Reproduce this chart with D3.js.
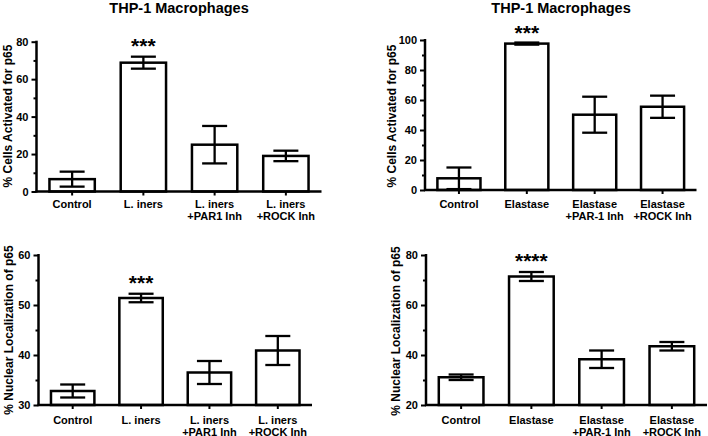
<!DOCTYPE html>
<html>
<head>
<meta charset="utf-8">
<script src="https://cdn.jsdelivr.net/npm/d3@7"></script>
<style>
  html, body { margin: 0; padding: 0; background: #fff; }
  svg { display: block; }
  text { font-family: "Liberation Sans", Arial, Helvetica, sans-serif; font-weight: bold; fill: #000; }
</style>
</head>
<body>
<svg id="chart" width="708" height="436"></svg>
<script>
// ---- Data ----
const titleText = "THP-1 Macrophages";
const categoriesLiners = [["Control"], ["L. iners"], ["L. iners", "+PAR1 Inh"], ["L. iners", "+ROCK Inh"]];
const categoriesElastase = [["Control"], ["Elastase"], ["Elastase", "+PAR-1 Inh"], ["Elastase", "+ROCK Inh"]];

const activatedLinersMean = [6.6, 68.8, 25.0, 19.0];
const activatedLinersErr  = [4.0, 3.2, 10.0, 2.8];
const activatedElastaseMean = [7.8, 97.6, 50.2, 55.5];
const activatedElastaseErr  = [7.2, 0.7, 12.0, 7.4];
const nuclearLinersMean = [32.8, 51.4, 36.5, 40.9];
const nuclearLinersErr  = [1.3, 0.85, 2.3, 2.9];
const nuclearElastaseMean = [31.1, 71.4, 38.3, 43.5];
const nuclearElastaseErr  = [1.1, 1.8, 3.5, 1.7];

const activatedLinersTicks = [0, 20, 40, 60, 80];
const activatedElastaseTicks = [0, 20, 40, 60, 80, 100];
const nuclearLinersTicks = [30, 40, 50, 60];
const nuclearElastaseTicks = [20, 40, 60, 80];

const yLabelActivated = "% Cells Activated for p65";
const yLabelNuclear = "% Nuclear Localization of p65";

const starsActLiners = ["", "***", "", ""];
const starsActElastase = ["", "***", "", ""];
const starsNucLiners = ["", "***", "", ""];
const starsNucElastase = ["", "****", "", ""];

// ---- Drawing ----
const svg = d3.select("#chart");

function panel(cfg) {
  const g = svg.append("g");
  const x = d3.scaleBand().domain(d3.range(cfg.cats.length))
    .range(cfg.xRange).paddingInner(0.33).paddingOuter(0.165);
  const y = d3.scaleLinear().domain(cfg.yDomain).range(cfg.yRange);
  const axisX = cfg.axisX;

  // bars
  g.selectAll("rect.bar").data(cfg.mean).enter().append("rect")
    .attr("x", (d, i) => x(i) + 1.2)
    .attr("width", x.bandwidth() - 2.4)
    .attr("y", d => y(d))
    .attr("height", d => y(cfg.yDomain[0]) - y(d))
    .attr("fill", "#fff").attr("stroke", "#000").attr("stroke-width", 2.5);

  // error bars
  const capW = 12.5;
  cfg.mean.forEach((m, i) => {
    const cx = x(i) + x.bandwidth() / 2;
    const hi = y(m + cfg.err[i]);
    const lo = y(Math.max(cfg.yDomain[0], m - cfg.err[i]));
    const e = g.append("g").attr("stroke", "#000").attr("stroke-width", 2.3);
    e.append("line").attr("x1", cx).attr("x2", cx).attr("y1", hi).attr("y2", lo);
    e.append("line").attr("x1", cx - capW).attr("x2", cx + capW).attr("y1", hi).attr("y2", hi);
    e.append("line").attr("x1", cx - capW).attr("x2", cx + capW).attr("y1", lo).attr("y2", lo);
    if (cfg.stars[i]) {
      g.append("text").attr("x", cx).attr("y", y(cfg.starY) )
        .attr("text-anchor", "middle").attr("font-size", 21).text(cfg.stars[i]);
    }
  });

  // y axis major
  const ya = g.append("g").attr("transform", `translate(${axisX},0)`)
    .call(d3.axisLeft(y).tickValues(cfg.ticks).tickSize(5).tickSizeOuter(0).tickPadding(3));
  // minor ticks
  const minor = [];
  for (let k = 0; k < cfg.ticks.length - 1; k++) minor.push((cfg.ticks[k] + cfg.ticks[k + 1]) / 2);
  g.append("g").attr("transform", `translate(${axisX},0)`)
    .call(d3.axisLeft(y).tickValues(minor).tickSize(3).tickFormat("").tickSizeOuter(0))
    .select(".domain").remove();
  g.selectAll(".tick line").attr("stroke-width", 2);
  ya.select(".domain").attr("stroke-width", 2.5)
    .attr("d", `M0,${y(cfg.yDomain[1]) - 1}V${y(cfg.yDomain[0]) + 1}`);
  ya.selectAll("text").attr("font-size", 11).attr("font-weight", "bold")
    .attr("font-family", '"Liberation Sans", Arial, sans-serif');

  // x axis
  const base = y(cfg.yDomain[0]);
  const xa = g.append("g").attr("transform", `translate(0,${base})`)
    .call(d3.axisBottom(x).tickSize(4).tickSizeOuter(0).tickFormat(""));
  xa.select(".domain").attr("stroke-width", 2.5)
    .attr("d", `M${axisX - 1},0H${cfg.xRange[1]}`);
  xa.selectAll(".tick line").attr("stroke-width", 2);
  cfg.cats.forEach((lines, i) => {
    const t = g.append("text").attr("text-anchor", "middle").attr("font-size", 11)
      .attr("x", x(i) + x.bandwidth() / 2).attr("y", base + cfg.labelDy);
    lines.forEach((ln, j) => {
      t.append("tspan").attr("x", x(i) + x.bandwidth() / 2).attr("dy", j === 0 ? 0 : 12).text(ln);
    });
  });

  // y label
  g.append("text").attr("text-anchor", "middle").attr("font-size", 12)
    .attr("transform", `translate(${cfg.yLabelX},${cfg.yLabelY}) rotate(-90)`)
    .text(cfg.yLabel);

  if (cfg.title) {
    g.append("text").attr("text-anchor", "middle").attr("font-size", 14.5)
      .attr("x", cfg.titleX).attr("y", cfg.titleY).text(cfg.title);
  }
}

panel({
  cats: categoriesLiners, mean: activatedLinersMean, err: activatedLinersErr,
  ticks: activatedLinersTicks, yDomain: [0, 80], yRange: [191.5, 41.7],
  xRange: [36.5, 321.5], axisX: 36.5, labelDy: 16.5, stars: starsActLiners, starY: 73.7,
  yLabel: yLabelActivated, yLabelX: 12, yLabelY: 116,
  title: titleText, titleX: 179, titleY: 13
});
panel({
  cats: categoriesElastase, mean: activatedElastaseMean, err: activatedElastaseErr,
  ticks: activatedElastaseTicks, yDomain: [0, 100], yRange: [190, 40],
  xRange: [425, 696.5], axisX: 425, labelDy: 17.5, stars: starsActElastase, starY: 100,
  yLabel: yLabelActivated, yLabelX: 396, yLabelY: 116,
  title: titleText, titleX: 561, titleY: 12.5
});
panel({
  cats: categoriesLiners, mean: nuclearLinersMean, err: nuclearLinersErr,
  ticks: nuclearLinersTicks, yDomain: [30, 60], yRange: [405, 255],
  xRange: [38.5, 312], axisX: 38.5, labelDy: 18.5, stars: starsNucLiners, starY: 53.1,
  yLabel: yLabelNuclear, yLabelX: 13, yLabelY: 330
});
panel({
  cats: categoriesElastase, mean: nuclearElastaseMean, err: nuclearElastaseErr,
  ticks: nuclearElastaseTicks, yDomain: [20, 80], yRange: [405, 255],
  xRange: [426, 707], axisX: 426, labelDy: 18.5, stars: starsNucElastase, starY: 74.8,
  yLabel: yLabelNuclear, yLabelX: 400, yLabelY: 331
});
</script>
</body>
</html>
